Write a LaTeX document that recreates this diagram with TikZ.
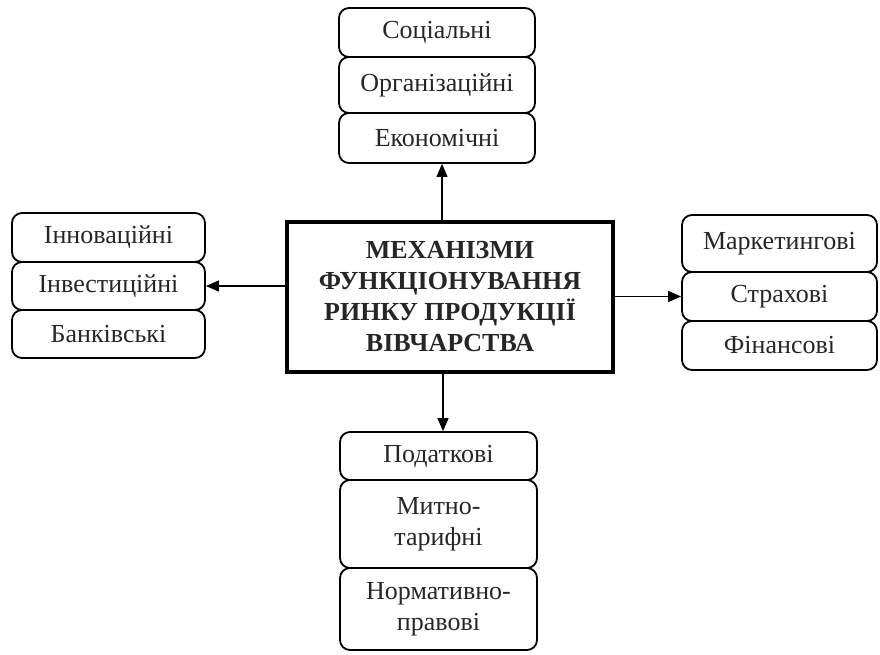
\documentclass[tikz,border=0pt]{standalone}
\usepackage{fontspec}
\setmainfont{Liberation Serif}
\usetikzlibrary{arrows.meta}
\begin{document}
\begin{tikzpicture}[x=1pt, y=-1pt,
  box/.style={draw, line width=1.8pt, rounded corners=10pt, minimum width=#1, inner sep=0pt, align=center, font=\fontsize{26}{31}\selectfont, text=black!85},
  mainbox/.style={draw, line width=3.5pt, minimum width=326pt, minimum height=150pt, inner sep=0pt, align=center, font=\fontsize{26}{31}\selectfont\bfseries, text=black!85},
  arr/.style={-{Triangle[length=13pt,width=11pt]}, line width=1.2pt}]
\useasboundingbox (0,0) rectangle (880,654);
\node[mainbox] (main) at (450,297){МЕХАНІЗМИ\\ФУНКЦІОНУВАННЯ\\РИНКУ ПРОДУКЦІЇ\\ВІВЧАРСТВА};
\node[box=196pt, minimum height=49pt] (soc) at (437,32.5){Соціальні};
\node[box=196pt, minimum height=56pt] (org) at (437,85){Організаційні};
\node[box=196pt, minimum height=50pt] (eco) at (437,138){Економічні};
\node[box=193pt, minimum height=49pt] (inn) at (108.5,237.5){Інноваційні};
\node[box=193pt, minimum height=48pt] (inv) at (108.5,286){Інвестиційні};
\node[box=193pt, minimum height=48pt] (bank) at (108.5,334){Банківські};
\node[box=195pt, minimum height=57pt] (mark) at (779.5,243.5){Маркетингові};
\node[box=195pt, minimum height=49pt] (strah) at (779.5,296.5){Страхові};
\node[box=195pt, minimum height=49pt] (fin) at (779.5,345.5){Фінансові};
\node[box=197pt, minimum height=48pt] (pod) at (438.5,456){Податкові};
\node[box=197pt, minimum height=88pt] (mytno) at (438.5,524){Митно-\\тарифні};
\node[box=197pt, minimum height=82pt] (norm) at (438.5,609){Нормативно-\\правові};
\draw[arr] (main.north -| 442,0) -- (eco.south -| 442,0);
\draw[arr] (main.west |- inv) -- (inv.east);
\draw[arr] (main.east |- strah) -- (strah.west);
\draw[arr] (main.south -| 443,0) -- (pod.north -| 443,0);
\end{tikzpicture}
\end{document}
